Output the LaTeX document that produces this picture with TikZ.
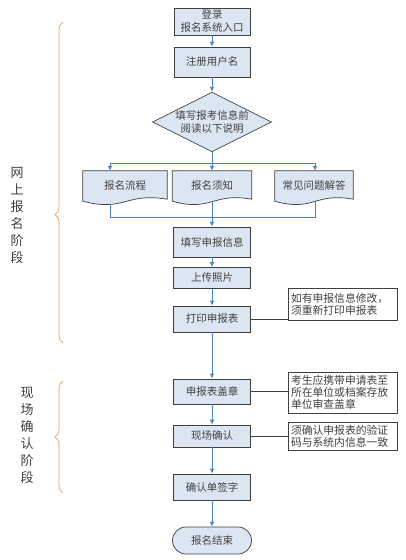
\documentclass[tikz,border=0pt]{standalone}
\usepackage{fontspec}
\setmainfont{Noto Sans CJK SC}
\usepackage[HTML]{xcolor}
\usepackage{tikz}
\usetikzlibrary{positioning, arrows.meta, shapes.geometric, calc, backgrounds, decorations.pathreplacing}
\definecolor{boxfill}{HTML}{DCE6F2}
\definecolor{boxline}{HTML}{404040}
\definecolor{flowblue}{HTML}{4F81BD}
\definecolor{bracetan}{HTML}{D9A066}

\begin{document}
\begin{tikzpicture}[x=1pt, y=-1pt,
  every node/.style={font=\fontsize{10.5}{13}\selectfont, text=boxline},
  box/.style={rectangle, draw=boxline, fill=boxfill, line width=0.7pt, minimum width=77pt, inner sep=2pt, align=center},
  ask/.style={diamond, aspect=2, draw=boxline, fill=boxfill, line width=0.7pt, inner sep=0pt, align=center},
  doc/.style={rectangle, minimum height=30pt, inner sep=0pt},
  docshape/.style={draw=boxline, fill=boxfill, line width=0.7pt},
  tip/.style={rectangle, draw=boxline, fill=white, line width=0.6pt, text width=103pt, inner sep=3pt, align=left, font=\fontsize{10.8}{12.3}\selectfont},
  stage/.style={align=center, font=\fontsize{13}{17}\selectfont},
  arrow/.style={draw=flowblue, line width=0.8pt, -{Latex[length=5pt,width=4.5pt]}},
  link/.style={draw=flowblue, line width=0.8pt},
  note/.style={draw=boxline, line width=0.6pt},
  brace/.style={decorate, decoration={brace, amplitude=8pt, aspect=#1}, draw=bracetan, line width=0.7pt}]
\useasboundingbox (0,0) rectangle (406,560);

% main column
\node[box, minimum width=76pt, minimum height=27pt] (start) at (212,21.5) {登录\\报名系统入口};
\node[box, minimum width=76pt, minimum height=30pt] (reg) at (212,62) {注册用户名};
\node[ask] (read) at (212,122) {填写报考信息前\\阅读以下说明};

% three documents
\node[doc, minimum width=84pt] (flow) at (125,186) {报名流程};
\node[doc, minimum width=79pt] (notice) at (212,186) {报名须知};
\node[doc, minimum width=78pt] (faq) at (314,186) {常见问题解答};
\begin{scope}[on background layer]
\foreach \d in {flow,notice,faq}{
  \filldraw[docshape] (\d.north west) -- (\d.north east) -- ($(\d.south east)+(0,-2)$)
    .. controls ($(\d.south)+(0,-9)$) and ($(\d.south)+(0,11)$) .. (\d.south west) -- cycle;
}
\end{scope}

\node[box, minimum height=30pt] (fill) at (212,242) {填写申报信息};
\node[box, minimum height=21pt] (upload) at (212,278) {上传照片};
\node[box, minimum height=26pt] (print) at (212,319) {打印申报表};
\node[box, minimum height=25pt] (seal) at (212,391.5) {申报表盖章};
\node[box, minimum height=22pt] (onsite) at (212,436) {现场确认};
\node[box, minimum height=26pt] (sign) at (212,487) {确认单签字};
\node[box, minimum width=79pt, minimum height=27pt, rounded corners=13.5pt] (finish) at (212,540.5) {报名结束};

% side notes
\node[tip, minimum height=32pt] (tip1) at (342.5,304) {如有申报信息修改，\\须重新打印申报表};
\node[tip, minimum height=41pt] (tip2) at (342.5,392.5) {考生应携带申请表至\\所在单位或档案存放\\单位审查盖章};
\node[tip, minimum height=27pt] (tip3) at (342.5,436.5) {须确认申报表的验证\\码与系统内信息一致};

% stages
\node[stage] (online) at (17,215.5) {网\\上\\报\\名\\阶\\段};
\node[stage] (confirm) at (27,435.5) {现\\场\\确\\认\\阶\\段};
\coordinate (b1top) at (63,22);
\coordinate (b1bot) at (63,343);
\coordinate (b2top) at (63,381);
\coordinate (b2bot) at (63,493);
\draw[brace=0.4] (b1bot) -- (b1top);
\draw[brace=0.5] (b2bot) -- (b2top);

% branch points
\coordinate (bl) at (110,163);
\coordinate (br) at (315,163);
\coordinate (jl) at (110,217);
\coordinate (jr) at (315,217);

% connectors
\draw[arrow] (start) -- (reg);
\draw[arrow] (reg) -- (read);
\draw[arrow] (read) -- (notice);
\draw[link] (bl) -- (br);
\draw[arrow] (bl) -- (bl |- flow.north);
\draw[arrow] (br) -- (br |- faq.north);
\draw[link] ($(bl |- flow.south)+(0,4)$) -- (jl) -- (jr) -- (br |- faq.south);
\draw[arrow] (notice.south) -- (fill);
\draw[arrow] (fill) -- (upload);
\draw[arrow] (upload) -- (print);
\draw[arrow] (print) -- (seal);
\draw[arrow] (seal) -- (onsite);
\draw[arrow] (onsite) -- (sign);
\draw[arrow] (sign) -- (finish);
\draw[note] (print.east) -- (print.east -| tip1.west);
\draw[note] (seal.east) -- (seal.east -| tip2.west);
\draw[note] (onsite.east) -- (onsite.east -| tip3.west);
\end{tikzpicture}
\end{document}
